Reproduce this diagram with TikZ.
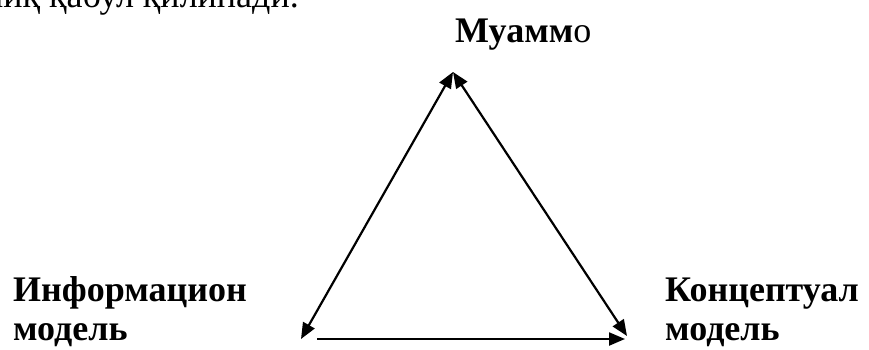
\documentclass[tikz,border=0pt]{standalone}
\usepackage{fontspec}
\setmainfont{Liberation Serif}
\usetikzlibrary{arrows.meta,positioning}

\begin{document}
\begin{tikzpicture}[
    x=1pt, y=-1pt,
    >={Triangle[length=16pt,width=13pt]},
    caption/.style={font=\fontsize{36}{39}\selectfont\bfseries, align=left, inner sep=0pt, anchor=base west},
    bodytext/.style={font=\fontsize{36}{42}\selectfont, inner sep=0pt, anchor=base west},
    link/.style={line width=2.2pt}
]
\useasboundingbox (0,0) rectangle (869,349);
\clip (0,0) rectangle (869,349);
% line of the running text above the figure
\node[bodytext] (para) at (-16,7) {ниқ қабул қилинади.};
\node[caption] (problem) at (455,42) {Муамм\mdseries о};
\node[caption] (info) at (13,340) {Информацион\\модель};
\node[caption] (concept) at (665,340) {Концептуал\\модель};
\coordinate (apex) at (453,72);
\coordinate (lefttip) at (301,339);
\coordinate (righttip) at (627,336);
\coordinate (basestart) at (317,339);
\coordinate (baseend) at (625,339);
\draw[link, <->] (apex) -- (lefttip);
\draw[link, <->] (apex) -- (righttip);
\draw[link, ->] (basestart) -- (baseend);
\end{tikzpicture}
\end{document}
